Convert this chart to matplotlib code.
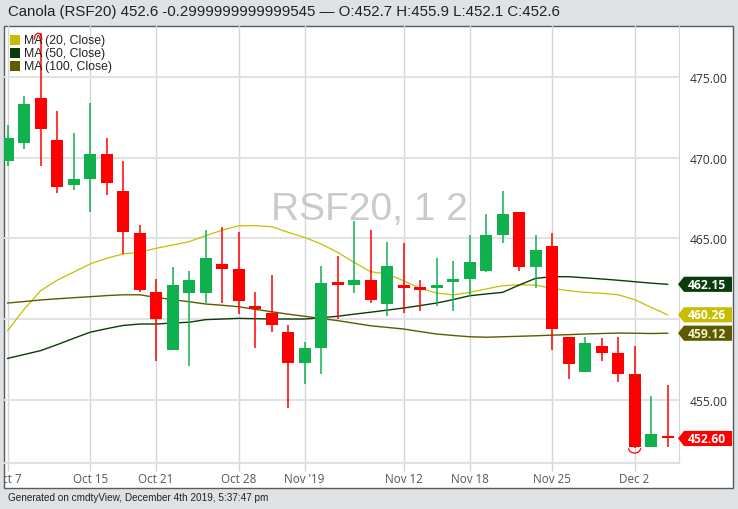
import matplotlib
matplotlib.use("Agg")
import matplotlib.pyplot as plt
from matplotlib.patches import Rectangle, Polygon, Arc
from matplotlib.transforms import blended_transform_factory

# trading days shown (Oct 7 .. Dec 4, 2019)
dates = ["Oct 7", "Oct 8", "Oct 9", "Oct 10", "Oct 11", "Oct 15", "Oct 16", "Oct 17",
         "Oct 18", "Oct 21", "Oct 22", "Oct 23", "Oct 24", "Oct 25", "Oct 28", "Oct 29",
         "Oct 30", "Oct 31", "Nov 1", "Nov 4", "Nov 5", "Nov 6", "Nov 7", "Nov 8",
         "Nov 12", "Nov 13", "Nov 14", "Nov 15", "Nov 18", "Nov 19", "Nov 20", "Nov 21",
         "Nov 22", "Nov 25", "Nov 26", "Nov 27", "Nov 28", "Nov 29", "Dec 2", "Dec 3", "Dec 4"]

opens = [469.8, 470.9, 473.7, 471.1, 468.3, 468.7, 470.2, 467.9, 465.3, 461.7,
         458.1, 461.6, 461.6, 463.4, 463.1, 460.8, 460.4, 459.2, 457.3, 458.2,
         462.3, 462.1, 462.4, 460.9, 462.1, 462.0, 461.9, 462.3, 462.5, 463.0,
         465.2, 466.6, 463.2, 464.5, 458.9, 456.7, 458.3, 457.9, 456.6, 452.1, 452.7]
highs = [472.0, 473.8, 477.7, 472.9, 471.5, 473.4, 471.2, 469.8, 465.8, 462.5,
         463.2, 463.0, 465.5, 465.7, 465.4, 461.7, 462.7, 459.6, 458.6, 463.3,
         463.9, 466.1, 465.5, 464.8, 464.7, 462.4, 463.8, 463.6, 465.2, 466.5,
         467.9, 466.6, 465.2, 465.3, 458.9, 458.9, 458.8, 458.9, 458.3, 455.2, 455.9]
lows = [469.5, 470.5, 469.5, 467.8, 468.0, 466.6, 467.7, 464.0, 461.7, 457.4,
        458.1, 457.1, 461.0, 461.0, 460.3, 458.2, 459.2, 454.5, 456.0, 456.6,
        460.0, 461.6, 461.0, 460.2, 460.4, 460.5, 460.8, 460.5, 461.4, 462.9,
        464.7, 463.0, 461.9, 458.1, 456.3, 456.7, 457.4, 456.1, 452.0, 452.1, 452.1]
closes = [471.2, 473.3, 471.8, 468.2, 468.7, 470.2, 468.4, 465.4, 461.8, 460.0,
          462.1, 462.4, 463.8, 463.1, 461.1, 460.6, 459.6, 457.3, 458.2, 462.2,
          462.1, 462.4, 461.2, 463.3, 461.9, 461.8, 462.0, 462.5, 463.5, 465.2,
          466.5, 463.2, 464.3, 459.4, 457.2, 458.5, 457.9, 456.6, 452.1, 452.9, 452.6]

ma20 = [459.27, 460.6, 461.75, 462.4, 462.9, 463.41, 463.76, 464.03, 464.13, 464.38,
        464.58, 464.79, 465.16, 465.5, 465.78, 465.78, 465.72, 465.37, 465.05, 464.65,
        464.13, 463.51, 462.93, 462.79, 462.37, 461.9, 461.61, 461.49, 461.65, 461.86,
        462.06, 462.12, 462.1, 461.9, 461.75, 461.65, 461.59, 461.5, 461.2, 460.72, 460.26]
ma50 = [457.56, 457.8, 458.04, 458.41, 458.8, 459.18, 459.4, 459.6, 459.69, 459.69,
        459.75, 459.8, 459.96, 460.0, 460.04, 460.02, 460.0, 460.0, 460.0, 460.08,
        460.17, 460.3, 460.42, 460.55, 460.68, 460.83, 460.99, 461.2, 461.44, 461.55,
        461.65, 462.1, 462.52, 462.62, 462.62, 462.55, 462.48, 462.4, 462.31, 462.22, 462.15]
ma100 = [460.99, 461.08, 461.18, 461.25, 461.32, 461.38, 461.45, 461.5, 461.5, 461.34,
         461.2, 461.07, 460.93, 460.85, 460.76, 460.6, 460.45, 460.3, 460.17, 460.03,
         459.9, 459.74, 459.58, 459.48, 459.38, 459.22, 459.07, 458.98, 458.9, 458.87,
         458.9, 458.93, 458.96, 459.0, 459.03, 459.07, 459.1, 459.13, 459.12, 459.1, 459.12]

tick_dates = ["Oct 7", "Oct 15", "Oct 21", "Oct 28", "Nov 1", "Nov 12", "Nov 18", "Nov 25", "Dec 2"]
tick_labels = ["Oct 7", "Oct 15", "Oct 21", "Oct 28", "Nov '19", "Nov 12", "Nov 18", "Nov 25", "Dec 2"]
y_ticks = [455, 460, 465, 470, 475]
y_labels = ["455.00", "", "465.00", "470.00", "475.00"]  # 460 sits under the MA tags

ma_names = ["MA (20, Close)", "MA (50, Close)", "MA (100, Close)"]
ma_colors = ["#c8bd00", "#0b3a0b", "#5e5a00"]
last_close = 452.60

W, H = 738, 510
GREEN = "#0fb14f"
RED = "#ff0000"
GRID = "#e2e2e2"

fig = plt.figure(figsize=(W / 100, H / 100), dpi=100, facecolor="#dfe2e5")
fig.patches.append(Rectangle((4 / W, 1 - 489 / H), 729 / W, 462 / H, transform=fig.transFigure,
                             facecolor="white", edgecolor="#5a5a5a", lw=1, zorder=-5))

ax = fig.add_axes([4 / W, 1 - 464 / H, 675 / W, 437 / H])
ax.set_facecolor("none")
x = list(range(len(dates)))

# candles
for i in x:
    col = GREEN if closes[i] >= opens[i] else RED
    ax.vlines(i, lows[i], highs[i], color=col, lw=1.1, zorder=3)
    lo, hi = min(opens[i], closes[i]), max(opens[i], closes[i])
    ax.bar(i, max(hi - lo, 0.18), bottom=lo, width=0.72, color=col, lw=0, zorder=4)

# high / low markers
ax.add_patch(Arc((1.85, highs[2] - 0.4), 0.45, 0.8, theta1=0, theta2=180, color=RED, lw=0.9, zorder=4))
ax.add_patch(Arc((38, lows[38]), 0.72, 0.6, theta1=180, theta2=360, color=RED, lw=0.9, zorder=4))

# moving averages
ax.plot(x, ma20, color=ma_colors[0], lw=0.9, zorder=2)
ax.plot(x, ma50, color=ma_colors[1], lw=1.0, zorder=2)
ax.plot(x, ma100, color=ma_colors[2], lw=1.0, zorder=2)

ax.set_xlim(-0.218, 40.69)
ax.set_ylim(451.08, 478.15)

ticks_x = [dates.index(d) for d in tick_dates]
ax.set_xticks(ticks_x)
ax.set_xticklabels([])
ax.set_yticks(y_ticks)
ax.set_yticklabels(y_labels, fontsize=8.7, family="Open Sans", color="#333333")
ax.yaxis.tick_right()
ax.tick_params(axis="y", length=0, pad=8)
ax.tick_params(axis="x", length=6, width=1, color="#d4d4d4")
ax.grid(axis="y", color=GRID, lw=1.4, zorder=0)
ax.grid(axis="x", color="#d6d6d6", lw=1.0, zorder=0)
ax.set_axisbelow(True)
for s in ["left", "top"]:
    ax.spines[s].set_visible(False)
ax.spines["right"].set_color("#d6d6d6")
ax.spines["bottom"].set_color("#e0e0e0")
ax.spines["bottom"].set_linewidth(1.5)

# date labels, clipped at the panel edge
clip = Rectangle((4 / W, 0), 1, 1, transform=fig.transFigure, visible=False)
fig.patches.append(clip)
xt = blended_transform_factory(ax.transData, ax.transAxes)
for t, lab in zip(ticks_x, tick_labels):
    tx = ax.text(t, -0.02, lab, transform=xt, ha="center", va="top", fontsize=8.4,
                 family="Open Sans", color="#555555", clip_on=True)
    tx.set_clip_path(clip)

# watermark
ax.text(0.541, 0.581, "RSF20, 1 2", transform=ax.transAxes, ha="center", va="center",
        fontsize=28, family="Liberation Sans", color="#cacaca", zorder=1)

# legend
for k, (name, col) in enumerate(zip(ma_names, ma_colors)):
    yy = 41 + 13 * k
    fig.patches.append(Rectangle((10 / W, 1 - (yy + 5) / H), 10 / W, 10 / H,
                                 transform=fig.transFigure, facecolor=col, lw=0))
    fig.text(24 / W, 1 - yy / H, name, fontsize=8.8, family="Liberation Sans",
             color="#222222", va="center", ha="left")

# price tags on the right
tt = blended_transform_factory(fig.transFigure, ax.transData)
tags = [(ma50[-1], ma_colors[1], "white"), (ma20[-1], ma_colors[0], "white"),
        (ma100[-1], ma_colors[2], "#f3efcf"), (last_close, RED, "white")]
for val, bg, fg in tags:
    hh = 0.47
    pts = [(678 / W, val), (684 / W, val + hh), (732 / W, val + hh), (732 / W, val - hh), (684 / W, val - hh)]
    ax.add_patch(Polygon(pts, closed=True, transform=tt, facecolor=bg, lw=0, clip_on=False, zorder=6))
    ax.text(707 / W, val, "%.2f" % val, transform=tt, ha="center", va="center", fontsize=8.7,
            family="Open Sans", weight="bold", color=fg, clip_on=False, zorder=7)

# header and footer
fig.text(8 / W, 1 - 12 / H, "Canola (RSF20) 452.6 -0.2999999999999545 \u2014 O:452.7 H:455.9 L:452.1 C:452.6",
         fontsize=10.8, family="Liberation Sans", color="#222222", va="center", ha="left")
fig.text(8 / W, 1 - 498 / H, "Generated on cmdtyView, December 4th 2019, 5:37:47 pm",
         fontsize=7.2, family="Liberation Sans", color="#222222", va="center", ha="left")

fig.savefig("out.png", dpi=100, facecolor=fig.get_facecolor())
